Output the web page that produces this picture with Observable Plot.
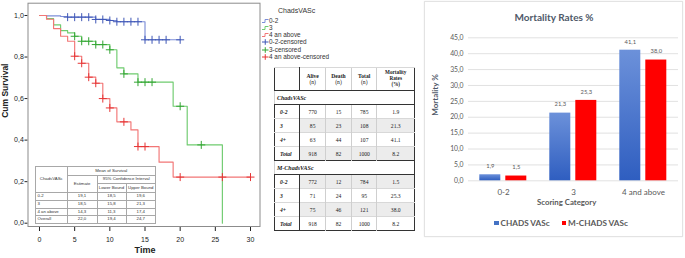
<!DOCTYPE html>
<html><head><meta charset="utf-8">
<script src="https://cdn.jsdelivr.net/npm/d3@7"></script>
<script src="https://cdn.jsdelivr.net/npm/@observablehq/plot@0.6"></script>
<style>
body{margin:0;background:#fff;}
#root{position:relative;width:685px;height:258px;overflow:hidden;font-family:"Liberation Sans",Arial,sans-serif;}
#kmt{position:absolute;left:35px;top:166px;width:120px;border-collapse:collapse;table-layout:fixed;font-family:"Liberation Sans",Arial,sans-serif;font-size:4.3px;color:#333;background:#fff;border:1.5px solid #8a8a8a;}
#kmt td{border:1px solid #a8a8a8;padding:0;text-align:center;line-height:4.6px;overflow:hidden;white-space:nowrap;}
#kmt td.l{text-align:left;padding-left:1.5px;}
#mid{position:absolute;left:274px;top:67px;width:140px;border-collapse:collapse;table-layout:fixed;font-family:"Liberation Serif","Times New Roman",serif;font-size:5.6px;color:#1a1a1a;border:1px solid #333;background:#fff;}
#mid td{padding:0;text-align:center;vertical-align:middle;border-left:1px solid #cfcfcf;border-top:1px solid #d8d8d8;height:13px;line-height:6px;}
#mid tr.hd td{height:22px;font-weight:bold;border-bottom:1px solid #333;}
#mid tr.hd td .n{font-weight:normal;}
#mid tr.hd td.mr{font-size:5.2px;line-height:5.8px;}
#mid td.lab{text-align:left;padding-left:5px;font-weight:bold;font-style:italic;border-right:1px solid #333;border-left:none;}
#mid tr.sec td{text-align:left;padding-left:2px;font-weight:bold;font-style:italic;border-top:1px solid #333;border-bottom:1px solid #333;font-size:6px;}
#mid tr.sh td:not(.lab){background:#ececec;}
#barbox{position:absolute;left:424px;top:1px;width:259px;height:236px;border:1px solid #e3e3e3;box-sizing:border-box;background:#fff;box-shadow:0 0 1.5px rgba(0,0,0,0.08);}
.bt{position:absolute;font-family:Lato,"Open Sans",sans-serif;color:#595959;white-space:nowrap;}
</style></head><body><div id="root"></div>
<script>
// ---------- Kaplan-Meier data ----------
const kmGroups = ["0-2", "3", "4 an above"];
const blueTimes = [0, 1, 3, 4, 8, 10, 11, 15, 20];
const blueSurv  = [1, 0.998, 0.995, 0.992, 0.981, 0.976, 0.970, 0.883, 0.883];
const blueCensor = [4, 5, 6, 7, 8, 9, 10, 11, 12, 13, 14, 15, 16, 17, 18, 20];
const greenTimes = [0, 1, 2, 3, 4, 5, 6, 8, 10, 11, 12, 14, 19, 21, 26];
const greenSurv  = [1, 0.985, 0.955, 0.927, 0.916, 0.900, 0.876, 0.860, 0.835, 0.748, 0.719, 0.679, 0.563, 0.377, 0];
const greenCensor = [5, 6, 7, 8, 9, 10, 12, 14, 15, 16, 20, 23];
const redTimes = [0, 1, 2, 3, 4, 5, 6, 7, 8, 9, 10, 11, 13, 14, 17, 19, 30];
const redSurv  = [1, 0.982, 0.937, 0.900, 0.876, 0.804, 0.770, 0.703, 0.674, 0.600, 0.555, 0.488, 0.449, 0.369, 0.294, 0.222, 0.222];
const redCensor = [5, 6, 7, 8, 9, 10, 12, 14, 15, 20, 26, 30];
const kmXTicks = [0, 5, 10, 15, 20, 25, 30];
const kmYTicks = [0, 0.2, 0.4, 0.6, 0.8, 1.0];

// KM summary table
const kmTableRows = ["0-2", "3", "4 an above", "Overall"];
const kmEstimate = [19.1, 18.5, 14.3, 22.0];
const kmLower = [18.5, 15.8, 11.3, 19.4];
const kmUpper = [19.6, 21.3, 17.4, 24.7];

// Middle table
const midGroups = ["0-2", "3", "4+", "Total"];
const chadsAlive = [770, 85, 63, 918];
const chadsDeath = [15, 23, 44, 82];
const chadsTotal = [785, 108, 107, 1000];
const chadsRate = [1.9, 21.3, 41.1, 8.2];
const mAlive = [772, 71, 75, 918];
const mDeath = [12, 24, 46, 82];
const mTotal = [784, 95, 121, 1000];
const mRate = [1.5, 25.3, 38.0, 8.2];

// Bar chart
const barCategories = ["0-2", "3", "4 and above"];
const barSeries = ["CHADS VASc", "M-CHADS VASc"];
const chadsRates = [1.9, 21.3, 41.1];
const mChadsRates = [1.5, 25.3, 38.0];
const barYTicks = [0, 5, 10, 15, 20, 25, 30, 35, 40, 45];

// ---------- helpers ----------
const comma1 = d => d.toFixed(1).replace(".", ",");
const root = document.getElementById("root");
function place(el, left, top) { el.style.position = "absolute"; el.style.left = left + "px"; el.style.top = top + "px"; root.appendChild(el); return el; }
function stepAt(times, surv, t) { let s = surv[0]; for (let i = 0; i < times.length; i++) if (times[i] <= t) s = surv[i]; return s; }
const toSteps = (times, surv) => times.map((t, i) => ({t, s: surv[i]}));
const toCensor = (times, surv, cens) => cens.map(t => ({t, s: stepAt(times, surv, t)}));

const lineColors = ["#7d8ed8", "#6fcb6f", "#f27676"];
const censorColors = ["#3f57b6", "#33a533", "#e63535"];
const series = [[blueTimes, blueSurv, blueCensor], [greenTimes, greenSurv, greenCensor], [redTimes, redSurv, redCensor]];

// ---------- KM plot ----------
const kmMarks = [Plot.frame({stroke: "#8c8c8c"})];
series.forEach(([tt, ss, cc], i) => {
  kmMarks.push(Plot.line(toSteps(tt, ss), {x: "t", y: "s", curve: "step-after", stroke: lineColors[i], strokeWidth: 1.15}));
});
series.forEach(([tt, ss, cc], i) => {
  kmMarks.push(Plot.dot(toCensor(tt, ss, cc), {x: "t", y: "s", symbol: "plus", r: 2.7, stroke: censorColors[i], strokeWidth: 1}));
});
kmMarks.push(Plot.text(["Time"], {frameAnchor: "bottom", text: d => d, dy: 26.5, dx: 1, fontWeight: "bold", fontSize: 9, fill: "#222"}));
kmMarks.push(Plot.text(["Cum Survival"], {frameAnchor: "left", text: d => d, rotate: -90, dx: -22.5, dy: 3, fontWeight: "bold", fontSize: 8.5, fill: "#222"}));

const km = Plot.plot({
  width: 262, height: 258,
  marginLeft: 27.5, marginRight: 2.5, marginTop: 2.7, marginBottom: 32,
  style: {fontFamily: "Liberation Sans, Arial, sans-serif", fontSize: "7px", color: "#222", background: "transparent", overflow: "visible"},
  x: {domain: [-1.635, 31.35], ticks: kmXTicks, tickSize: 5, tickPadding: 6, label: null},
  y: {domain: [-0.0159, 1.0592], ticks: kmYTicks, tickFormat: comma1, tickSize: 3, tickPadding: 1.2, label: null},
  marks: kmMarks
});
place(km, 0, 0);

// KM legend
const lt = document.createElement("div");
lt.textContent = "ChadsVASc";
lt.style.cssText = "font-size:7px;color:#333;line-height:8px;";
place(lt, 278, 6.7);
const legendItems = [];
kmGroups.forEach((g, i) => legendItems.push({label: g, color: lineColors[i], type: "line"}));
kmGroups.forEach((g, i) => legendItems.push({label: g + "-censored", color: censorColors[i], type: "plus"}));
legendItems.forEach((it, i) => {
  const d = document.createElement("div");
  d.style.cssText = "height:8px;line-height:8px;font-size:6.4px;color:#333;white-space:nowrap;";
  const sym = it.type === "line"
    ? `<path d="M0,5.5H3V2.5H6.5" fill="none" stroke="${it.color}" stroke-width="1"/>`
    : `<path d="M0,4H6.5M3.25,1.2V6.8" fill="none" stroke="${it.color}" stroke-width="1"/>`;
  d.innerHTML = `<svg width="7" height="8" style="vertical-align:top">${sym}</svg><span style="margin-left:0.5px">${it.label}</span>`;
  place(d, 261.5, 20.7 + 7.2 * i - 4);
});

// KM summary table
let kh = `<colgroup><col style="width:31.5px"><col style="width:30px"><col style="width:29px"><col style="width:29.5px"></colgroup>`;
kh += `<tr style="height:8.8px"><td rowspan="3">ChadsVASc</td><td colspan="3">Mean of Survival</td></tr>`;
kh += `<tr style="height:8.7px"><td rowspan="2">Estimate</td><td colspan="2">95% Confidence Interval</td></tr>`;
kh += `<tr style="height:8.7px"><td>Lower Bound</td><td>Upper Bound</td></tr>`;
kmTableRows.forEach((r, i) => {
  kh += `<tr style="height:7.7px"><td class="l">${r}</td><td>${comma1(kmEstimate[i])}</td><td>${comma1(kmLower[i])}</td><td>${comma1(kmUpper[i])}</td></tr>`;
});
const kmt = document.createElement("table");
kmt.id = "kmt"; kmt.innerHTML = kh; root.appendChild(kmt);

// Middle table
function midSection(label, alive, death, total, rate, shadeStart) {
  let h = `<tr class="sec"><td colspan="5">${label}</td></tr>`;
  midGroups.forEach((g, i) => {
    const sh = (i + shadeStart) % 2 === 1 ? ' class="sh"' : '';
    h += `<tr${sh}><td class="lab">${g}</td><td>${alive[i]}</td><td>${death[i]}</td><td>${total[i]}</td><td>${rate[i].toFixed(1)}</td></tr>`;
  });
  return h;
}
let mh = `<colgroup><col style="width:25.3px"><col style="width:25.7px"><col style="width:26px"><col style="width:25.5px"><col style="width:37.5px"></colgroup>`;
mh += `<tr class="hd"><td class="lab"></td><td>Alive<br><span class="n">(n)</span></td><td>Death<br><span class="n">(n)</span></td><td>Total<br><span class="n">(n)</span></td><td class="mr">Mortality<br>Rates<br>(%)</td></tr>`;
mh += midSection("ChadsVASc", chadsAlive, chadsDeath, chadsTotal, chadsRate, 0);
mh += midSection("M-ChadsVASc", mAlive, mDeath, mTotal, mRate, 1);
const mid = document.createElement("table");
mid.id = "mid"; mid.innerHTML = mh; root.appendChild(mid);

// ---------- Bar chart ----------
const box = document.createElement("div"); box.id = "barbox"; root.appendChild(box);
const barRows = [];
barCategories.forEach((c, i) => {
  barRows.push({category: c, series: barSeries[0], value: chadsRates[i]});
  barRows.push({category: c, series: barSeries[1], value: mChadsRates[i]});
});
const bar = Plot.plot({
  width: 259, height: 236,
  marginLeft: 42.7, marginRight: 4.7, marginTop: 36.3, marginBottom: 56.7,
  style: {fontFamily: "Lato, 'Open Sans', sans-serif", fontSize: "6.8px", color: "#595959", background: "transparent", overflow: "visible"},
  facet: {data: barRows, x: "category"},
  fx: {domain: barCategories, padding: 0, label: null, tickSize: 0, tickPadding: 8.5},
  x: {domain: barSeries, paddingInner: 0.187, paddingOuter: 0.413, axis: null},
  y: {domain: [0, 45], ticks: barYTicks, tickFormat: comma1, tickSize: 0, tickPadding: 5, label: null},
  color: {type: "ordinal", domain: barSeries, range: ["url(#blueGrad)", "#ff0000"]},
  marks: [
    Plot.ruleY(barYTicks, {stroke: "#d9d9d9", strokeWidth: 0.8}),
    Plot.barY(barRows, {x: "series", y: "value", fill: "series"}),
    Plot.text(barRows, {x: "series", y: "value", text: d => comma1(d.value), dy: -8.5, fontSize: 5.8, fill: "#595959"})
  ]
});
const barSvg = bar.tagName.toLowerCase() === "svg" ? bar : bar.querySelector("svg");
const defs = d3.select(barSvg).insert("defs", ":first-child");
const grad = defs.append("linearGradient").attr("id", "blueGrad").attr("x1", 0).attr("y1", 0).attr("x2", 0).attr("y2", 1);
grad.append("stop").attr("offset", 0).attr("stop-color", "#6c91da");
grad.append("stop").attr("offset", 1).attr("stop-color", "#2f5ec0");
barSvg.querySelectorAll("text").forEach(t => {
  if (barCategories.includes(t.textContent)) { t.style.fontSize = "8px"; }
});
place(bar, 424, 1);

function btext(txt, cx, cy, size, weight, color, rotate) {
  const d = document.createElement("div");
  d.className = "bt"; d.textContent = txt;
  d.style.fontSize = size + "px"; d.style.fontWeight = weight; d.style.color = color;
  d.style.width = "200px"; d.style.textAlign = "center"; d.style.lineHeight = "12px"; d.style.height = "12px";
  if (rotate) d.style.transform = "rotate(-90deg)";
  place(d, cx - 100, cy - 6);
  return d;
}
btext("Mortality Rates %", 554, 16.7, 10, "bold", "#4f5969");
btext("Mortality %", 435, 95, 8, "bold", "#4f5969", true);
btext("Scoring Category", 566.7, 202.3, 7.8, "bold", "#595959");
// legend
barSeries.forEach((s, i) => {
  const d = document.createElement("div");
  d.className = "bt";
  d.style.cssText += "font-size:8.2px;font-weight:bold;line-height:10px;height:10px;";
  const col = i === 0 ? "#4472c4" : "#ff0000";
  d.innerHTML = `<span style="display:inline-block;width:4.5px;height:4.5px;background:${col};margin-right:2px;vertical-align:0.5px"></span>${s}`;
  place(d, i === 0 ? 494 : 561.5, 217.7);
});
</script></body></html>
